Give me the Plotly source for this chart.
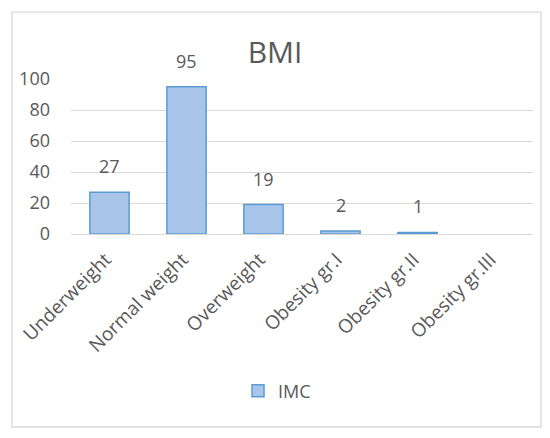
import plotly.graph_objects as go

categories = ["Underweight", "Normal weight", "Overweight",
              "Obesity gr.I", "Obesity gr.II", "Obesity gr.III"]
imc = [27, 95, 19, 2, 1, None]
labels = ["27", "95", "19", "2", "1", ""]

grey = "#595959"
grid = "#d9d9d9"
font = "Open Sans"

fig = go.Figure()
fig.add_trace(go.Bar(
    x=categories,
    y=imc,
    name="IMC",
    marker=dict(color="#a9c6ea", line=dict(color="#5b9bd5", width=1.5)),
))

# value labels above the bars
for cat, val, lab in zip(categories, imc, labels):
    if lab:
        fig.add_annotation(x=cat, y=val, text=lab, showarrow=False,
                           yanchor="bottom", yshift=12,
                           font=dict(family=font, size=18, color=grey))

# outer chart frame
fig.add_shape(type="rect", xref="paper", yref="paper",
              x0=-0.1277, x1=1.0173, y0=-1.245, y1=1.432,
              line=dict(color=grid, width=1.3), layer="below")

# page body has an 8px margin, so the figure is sized to fit inside it
fig.update_layout(
    width=534,
    height=422,
    margin=dict(l=63, r=9, t=71, b=196),
    paper_bgcolor="white",
    plot_bgcolor="white",
    bargap=0.49,
    font=dict(family=font, size=18, color=grey),
    title=dict(text="BMI", x=0.5, xanchor="center", y=0.8934, yanchor="middle",
               font=dict(family=font, size=30, color=grey)),
    showlegend=True,
    legend=dict(orientation="h", x=0.3615, xanchor="left", y=-1.013,
                yanchor="middle", font=dict(size=18, color=grey)),
)
fig.update_yaxes(range=[0, 100], dtick=20, showgrid=True, gridcolor=grid,
                 gridwidth=1, zeroline=False, showline=False,
                 ticklabelstandoff=20, fixedrange=True)
fig.update_xaxes(showline=True, linecolor=grid, linewidth=1, tickangle=-45,
                 tickfont=dict(size=19), ticklabelstandoff=6,
                 ticklabelshift=-4, fixedrange=True)

fig.write_html("out.html")
